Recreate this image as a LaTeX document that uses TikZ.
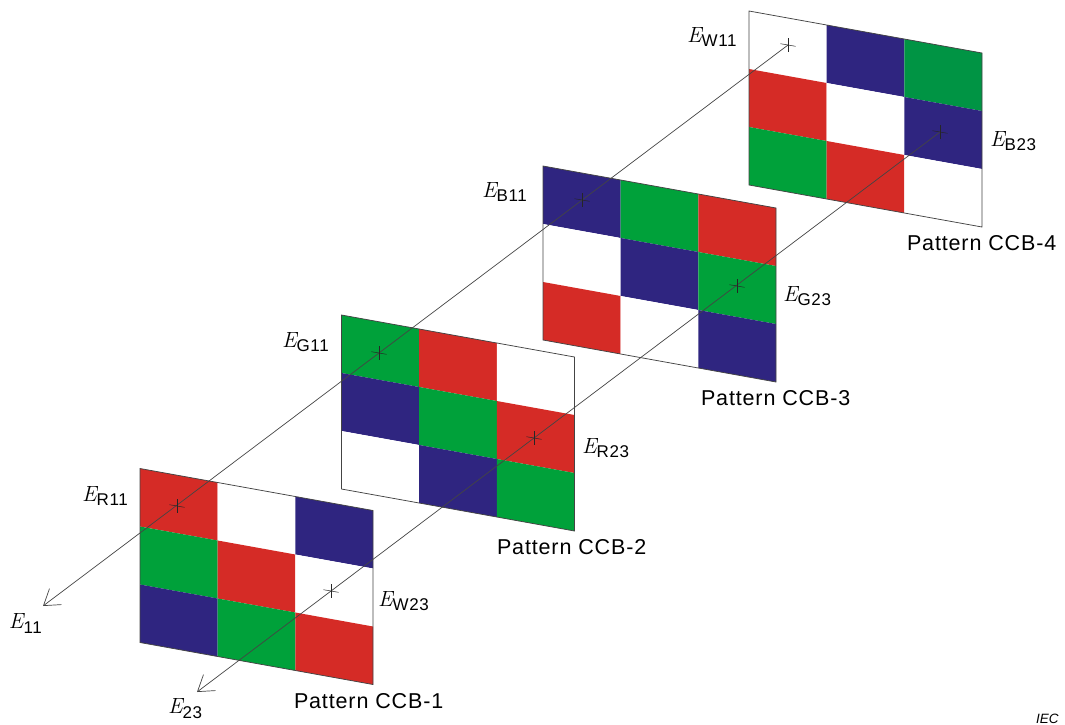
\documentclass[tikz,border=0pt]{standalone}
\usepackage{fontspec}
\usetikzlibrary{arrows.meta,calc}
\newfontfamily\lblsans[LetterSpace=4]{Liberation Sans}
\newfontfamily\iecsans{Liberation Sans}
\definecolor{cR}{HTML}{D52B26}
\definecolor{cG}{HTML}{00A13A}
\definecolor{cD}{HTML}{009444}
\definecolor{cB}{HTML}{2F2580}
\definecolor{cW}{HTML}{FFFFFF}
\definecolor{cLine}{HTML}{444444}
\tikzset{
  x=1pt,y=-1pt,
  axisline/.style={draw=cLine,line width=0.7pt,-{Straight Barb[length=15pt,width=20pt,line width=0.7pt]}},
  crossmark/.style={draw=black!85,line width=0.5pt},
  outline/.style={draw=cLine,line width=0.75pt},
  lbl/.style={anchor=base west,inner sep=0pt,outer sep=0pt},
  pat/.style={lbl,font=\fontsize{21.5}{24}\selectfont\lblsans},
}
\newcommand{\Ee}{{\fontsize{22}{24}\selectfont\itshape E}}
\newcommand{\Elab}[1]{\Ee\raisebox{-4.5pt}{\fontsize{17}{18}\selectfont\lblsans #1}}
% panel: name, TLx, TLy, then nine colours row by row
\newcommand{\panel}[4]{%
  \foreach \c/\r/\col in {#4}{
    \fill[\col] (#2+77.67*\c,#3+14*\c+58*\r) -- ++(77.67,14) -- ++(0,58) -- ++(-77.67,-14) -- cycle;
  }
  \draw[outline] (#2,#3) coordinate (#1tl) -- ++(233,42) -- ++(0,174) -- ++(-233,-42) -- cycle;
}
\newcommand{\crossat}[1]{%
  \draw[crossmark] ($(#1)+(-7.5,-1.3)$) -- ($(#1)+(7.5,1.3)$);
  \draw[crossmark] ($(#1)+(0,-7)$) -- ($(#1)+(0,7)$);
}
\begin{document}
\begin{tikzpicture}
\useasboundingbox (0,0) rectangle (1065,724);
\panel{pa}{140}{468.5}{0/0/cR,1/0/cW,2/0/cB,0/1/cG,1/1/cR,2/1/cW,0/2/cB,1/2/cG,2/2/cR}
\panel{pb}{341.5}{315}{0/0/cG,1/0/cR,2/0/cW,0/1/cB,1/1/cG,2/1/cR,0/2/cW,1/2/cB,2/2/cG}
\panel{pc}{543}{166}{0/0/cB,1/0/cG,2/0/cR,0/1/cW,1/1/cB,2/1/cG,0/2/cR,1/2/cW,2/2/cB}
\panel{pd}{749}{11}{0/0/cW,1/0/cB,2/0/cD,0/1/cR,1/1/cW,2/1/cB,0/2/cG,1/2/cR,2/2/cW}
\coordinate (eA) at (43,606);
\coordinate (eB) at (197,692);
\coordinate (xW11) at (788,45);
\coordinate (xB23) at (940,132);
\coordinate (xR11) at (177,506);
\coordinate (xG11) at (379,353);
\coordinate (xB11) at (582,200);
\coordinate (xW23) at (331,591);
\coordinate (xR23) at (534,438);
\coordinate (xG23) at (737,286);
\draw[axisline] (xW11) -- (eA);
\draw[axisline] (xB23) -- (eB);
\crossat{xW11}\crossat{xB23}\crossat{xR11}\crossat{xG11}\crossat{xB11}\crossat{xW23}\crossat{xR23}\crossat{xG23}
\node[lbl] (lE11) at (9,628) {\Ee\raisebox{-5pt}{\fontsize{17}{18}\selectfont\lblsans 11}};
\node[lbl] (lE23) at (168,713) {\Ee\raisebox{-5pt}{\fontsize{17}{18}\selectfont\lblsans 23}};
\node[lbl] (lR11) at (82,501) {\Elab{R11}};
\node[lbl] (lG11) at (282,347) {\Elab{G11}};
\node[lbl] (lB11) at (482,197) {\Elab{B11}};
\node[lbl] (lW11) at (687,42) {\Elab{W11}};
\node[lbl] (lW23) at (378,606) {\Elab{W23}};
\node[lbl] (lR23) at (582,453) {\Elab{R23}};
\node[lbl] (lG23) at (783,301) {\Elab{G23}};
\node[lbl] (lB23) at (990,146) {\Elab{B23}};
\node[pat] (p1) at (294,708) {Pattern CCB-1};
\node[pat] (p2) at (497,554) {Pattern CCB-2};
\node[pat] (p3) at (701,405) {Pattern CCB-3};
\node[pat] (p4) at (907,250) {Pattern CCB-4};
\node[lbl,font=\fontsize{13.5}{15}\selectfont\iecsans\itshape] (iec) at (1036,723) {IEC};
\end{tikzpicture}
\end{document}
